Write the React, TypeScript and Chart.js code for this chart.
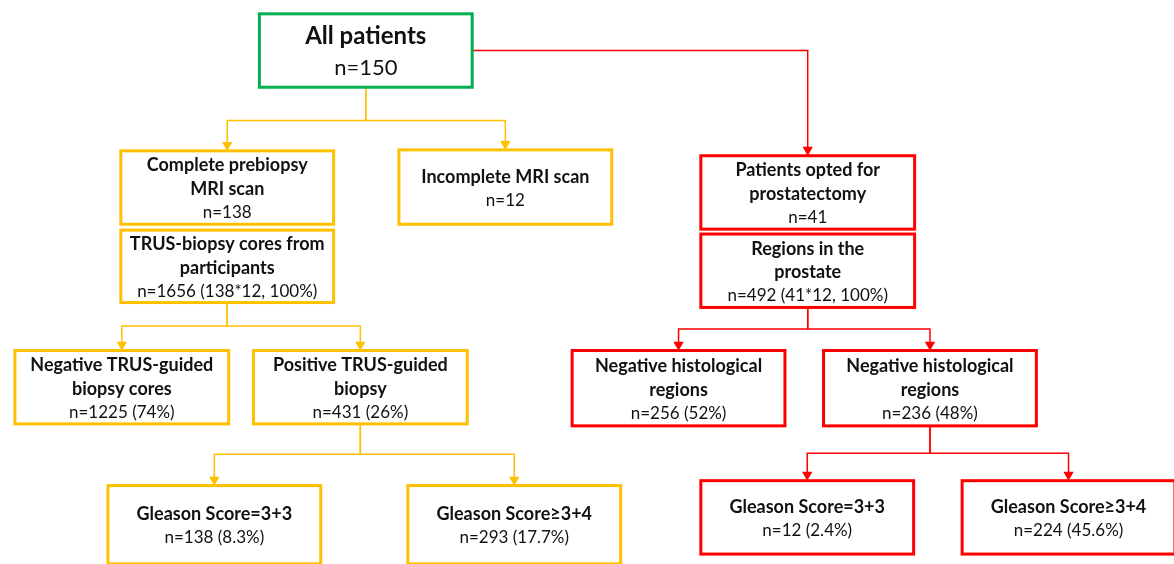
import { useEffect, useRef } from "react";
import { Chart, registerables } from "chart.js";

Chart.register(...registerables);

// ---- Flowchart data ----
const nodeLines: string[][] = [
  ["All patients", "n=150"],
  ["Complete prebiopsy", "MRI scan", "n=138"],
  ["Incomplete MRI scan", "n=12"],
  ["Patients opted for", "prostatectomy", "n=41"],
  ["TRUS-biopsy cores from", "participants", "n=1656 (138*12, 100%)"],
  ["Regions in the", "prostate", "n=492 (41*12, 100%)"],
  ["Negative TRUS-guided", "biopsy cores", "n=1225 (74%)"],
  ["Positive TRUS-guided", "biopsy", "n=431 (26%)"],
  ["Gleason Score=3+3", "n=138 (8.3%)"],
  ["Gleason Score≥3+4", "n=293 (17.7%)"],
  ["Negative histological", "regions", "n=256 (52%)"],
  ["Negative histological", "regions", "n=236 (48%)"],
  ["Gleason Score=3+3", "n=12 (2.4%)"],
  ["Gleason Score≥3+4", "n=224 (45.6%)"],
];
const nodeGroup = ["all", "mri", "mri", "surg", "mri", "surg", "mri", "mri", "mri", "mri", "surg", "surg", "surg", "surg"];
const nodeLeft = [256, 116, 397, 702, 116, 702, 9, 250, 103, 406, 572, 826, 702, 966];
const nodeRight = [471, 331, 612, 918, 331, 918, 225, 466, 318, 621, 787, 1041, 917, 1181];
const nodeTop = [8, 148, 147, 153, 229, 233, 352, 352, 490, 490, 352, 352, 485, 485];
const nodeBottom = [83, 223, 223, 228, 303, 308, 427, 427, 570, 570, 429, 429, 560, 560];

// edges: parent, child, y of the branch bar (null = leave from parent's side)
const edgeParent = [0, 0, 0, 4, 4, 7, 7, 5, 5, 11, 11];
const edgeChild = [1, 2, 3, 6, 7, 8, 9, 10, 11, 12, 13];
const edgeBarY: (number | null)[] = [117, 117, null, 327, 327, 458, 458, 330, 330, 457, 457];

const groupColor: Record<string, string> = { all: "#00B050", mri: "#FFC000", surg: "#FF0000" };
const ARROW_R = 6;

export default function App() {
  const ref = useRef<HTMLCanvasElement | null>(null);
  useEffect(() => {
    if (!ref.current) return;
    const cx = (i: number) => (nodeLeft[i] + nodeRight[i]) / 2;
    const cy = (i: number) => (nodeTop[i] + nodeBottom[i]) / 2;

    const datasets = edgeParent.map((p, k) => {
      const c = edgeChild[k];
      const bar = edgeBarY[k];
      const color = groupColor[nodeGroup[c]];
      const pts =
        bar === null
          ? [
              { x: nodeRight[p], y: cy(p) },
              { x: cx(c), y: cy(p) },
              { x: cx(c), y: nodeTop[c] - ARROW_R },
            ]
          : [
              { x: cx(p), y: nodeBottom[p] },
              { x: cx(p), y: bar },
              { x: cx(c), y: bar },
              { x: cx(c), y: nodeTop[c] - ARROW_R },
            ];
      return {
        data: pts,
        showLine: true,
        borderColor: color,
        borderWidth: 1.5,
        pointRadius: pts.map((_, i) => (i === pts.length - 1 ? ARROW_R : 0)),
        pointStyle: "triangle" as const,
        rotation: 180,
        pointBackgroundColor: color,
        pointBorderColor: color,
        pointBorderWidth: 0,
        clip: false as const,
      };
    });

    const boxPlugin = {
      id: "boxes",
      afterDatasetsDraw(chart: any) {
        const { ctx, scales } = chart;
        const xs = scales.x, ys = scales.y;
        nodeLines.forEach((lines, i) => {
          const l = xs.getPixelForValue(nodeLeft[i]);
          const r = xs.getPixelForValue(nodeRight[i]);
          const t = ys.getPixelForValue(nodeTop[i]);
          const b = ys.getPixelForValue(nodeBottom[i]);
          ctx.save();
          ctx.fillStyle = "#ffffff";
          ctx.fillRect(l, t, r - l, b - t);
          ctx.strokeStyle = groupColor[nodeGroup[i]];
          ctx.lineWidth = 3;
          ctx.strokeRect(l, t, r - l, b - t);
          const big = i === 0;
          const boldSize = big ? 24 : 18;
          const normSize = big ? 22 : 17;
          const lh = big ? 31 : 23.5;
          const mid = (t + b) / 2 + 1.5;
          ctx.fillStyle = "#111111";
          ctx.textAlign = "center";
          ctx.textBaseline = "middle";
          lines.forEach((txt, j) => {
            const bold = j < lines.length - 1;
            ctx.font = bold ? `bold ${boldSize}px Lato` : `${normSize}px Lato`;
            const y = mid + (j - (lines.length - 1) / 2) * lh;
            ctx.fillText(txt, (l + r) / 2, y);
          });
          ctx.restore();
        });
      },
    };

    const chart = new Chart(ref.current, {
      type: "scatter",
      data: { datasets: datasets as any },
      options: {
        animation: false,
        responsive: false,
        layout: { padding: 0 },
        plugins: { legend: { display: false }, tooltip: { enabled: false } },
        scales: {
          x: { type: "linear", min: 0, max: 1174, display: false },
          y: { type: "linear", min: 0, max: 564, reverse: true, display: false },
        },
      },
      plugins: [boxPlugin],
    });
    return () => chart.destroy();
  }, []);

  return (
    <div style={{ position: "fixed", left: 0, top: 0, width: 1174, height: 564, background: "#fff" }}>
      <canvas ref={ref} width={1174} height={564} style={{ display: "block" }} />
    </div>
  );
}
